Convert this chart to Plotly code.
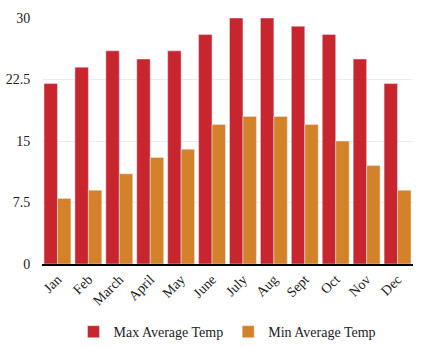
import plotly.graph_objects as go

months = ["Jan", "Feb", "March", "April", "May", "June", "July", "Aug", "Sept", "Oct", "Nov", "Dec"]
max_temp = [22, 24, 26, 25, 26, 28, 30, 30, 29, 28, 25, 22]
min_temp = [8, 9, 11, 13, 14, 17, 18, 18, 17, 15, 12, 9]

fig = go.Figure()
fig.add_trace(go.Bar(x=months, y=max_temp, name="Max Average Temp", marker_color="#c9252f"))
fig.add_trace(go.Bar(x=months, y=min_temp, name="Min Average Temp", marker_color="#d4822a"))

fig.update_layout(
    width=432, height=347,
    margin=dict(l=42, r=19, t=18, b=83),
    barmode="group", bargap=0.13, bargroupgap=0,
    plot_bgcolor="white", paper_bgcolor="white",
    font=dict(family="Liberation Serif", size=14, color="#222"),
    legend=dict(orientation="h", x=0.5, xanchor="center", yref="container", y=0.043, yanchor="middle",
                font=dict(family="Liberation Serif", size=14), itemwidth=30, tracegroupgap=0),
    xaxis=dict(tickangle=-45, showline=True, linecolor="black", linewidth=1.5, ticks="",
               automargin=False, tickfont=dict(family="Liberation Serif", size=14)),
    yaxis=dict(range=[0, 30], tickvals=[0, 7.5, 15, 22.5, 30], ticktext=["0", "7.5", "15", "22.5", "30"],
               gridcolor="#ececec", zeroline=False, ticklen=8, ticks="outside", tickcolor="white",
               automargin=False, tickfont=dict(family="Liberation Serif", size=14)),
)
fig.write_html("out.html")
